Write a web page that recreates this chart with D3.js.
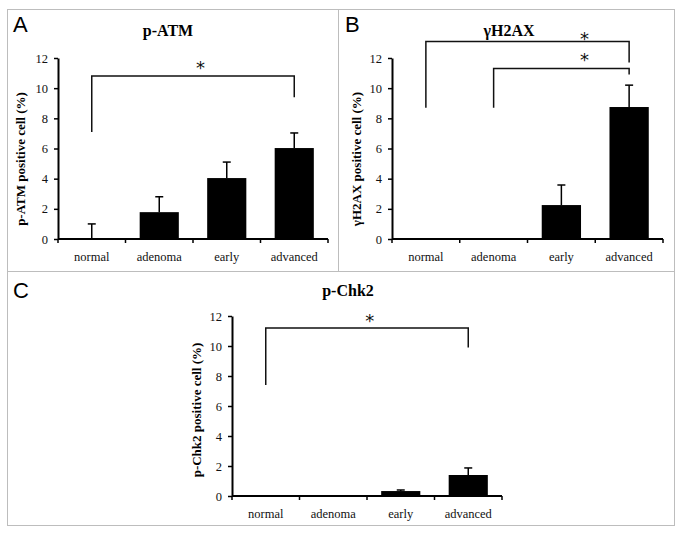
<!DOCTYPE html>
<html>
<head>
<meta charset="utf-8">
<script src="https://cdn.jsdelivr.net/npm/d3@7"></script>
<style>
  body { margin: 0; background: #fff; }
  svg { display: block; }
</style>
</head>
<body>
<div id="chart"></div>
<script>
// categories shared by the three panels
var categories = ['normal', 'adenoma', 'early', 'advanced'];
var yTicks = [0, 2, 4, 6, 8, 10, 12];

// panel A: p-ATM
var atmValues = [0, 1.78, 4.04, 6.03];
var atmErrors = [1.0, 1.02, 1.06, 1.0];
// panel B: gammaH2AX
var h2axValues = [0, 0.05, 2.25, 8.75];
var h2axErrors = [0, 0, 1.33, 1.45];
// panel C: p-Chk2
var chk2Values = [0, 0, 0.33, 1.4];
var chk2Errors = [0, 0, 0.07, 0.47];

// significance brackets: from/to category, bracket height, drop ends, star
var atmBrackets = [
  {from: 'normal', to: 'advanced', top: 10.8, leftEnd: 7.1, rightEnd: 9.4, starAt: 1.61, starY: 11.6}
];
var h2axBrackets = [
  {from: 'normal', to: 'advanced', top: 13.1, leftEnd: 8.7, rightEnd: 11.7, starAt: 2.34, starY: 13.5},
  {from: 'adenoma', to: 'advanced', top: 11.3, leftEnd: 8.7, rightEnd: 10.9, starAt: 2.34, starY: 12.1}
];
var chk2Brackets = [
  {from: 'normal', to: 'advanced', top: 11.2, leftEnd: 7.4, rightEnd: 9.9, starAt: 1.54, starY: 11.93}
];

var width = 679, height = 538;
var serif = "'Liberation Serif', 'Times New Roman', serif";

var svg = d3.select('#chart').append('svg')
    .attr('width', width)
    .attr('height', height);

svg.append('rect')
    .attr('width', width)
    .attr('height', height)
    .attr('fill', '#fff');

// panel frames
var frames = svg.append('g').attr('class', 'frames')
    .attr('fill', 'none')
    .attr('stroke', '#bdbdbd')
    .attr('stroke-width', 1);
frames.append('rect').attr('x', 7.5).attr('y', 9.5).attr('width', 331).attr('height', 262);
frames.append('rect').attr('x', 338.5).attr('y', 9.5).attr('width', 336).attr('height', 262);
frames.append('rect').attr('x', 7.5).attr('y', 271.5).attr('width', 667).attr('height', 254);

var panels = [
  {letter: 'A', lx: 13, ly: 32, title: 'p-ATM', tx: 168, ty: 36,
   ylabel: 'p-ATM positive cell (%)', ylx: 20, yly: 159,
   x0: 58, x1: 328, yTop: 58, yBot: 239,
   values: atmValues, errors: atmErrors, brackets: atmBrackets},
  {letter: 'B', lx: 345, ly: 32, title: '\u03b3H2AX', tx: 509, ty: 36,
   ylabel: '\u03b3H2AX positive cell (%)', ylx: 356, yly: 159,
   x0: 392, x1: 663, yTop: 58, yBot: 239,
   values: h2axValues, errors: h2axErrors, brackets: h2axBrackets},
  {letter: 'C', lx: 13, ly: 298, title: 'p-Chk2', tx: 348, ty: 296,
   ylabel: 'p-Chk2 positive cell (%)', ylx: 196, yly: 410,
   x0: 232, x1: 502, yTop: 316, yBot: 496,
   values: chk2Values, errors: chk2Errors, brackets: chk2Brackets}
];

panels.forEach(drawPanel);

function drawPanel(p) {
  var g = svg.append('g').attr('class', 'panel-' + p.letter);

  var x = d3.scaleBand()
      .domain(categories)
      .range([p.x0, p.x1])
      .paddingInner(0.42)
      .paddingOuter(0.21);

  var y = d3.scaleLinear()
      .domain([0, 12])
      .range([p.yBot, p.yTop]);

  // panel letter
  g.append('text')
      .attr('x', p.lx)
      .attr('y', p.ly)
      .attr('font-family', "'Liberation Sans', Arial, sans-serif")
      .attr('font-size', 22)
      .attr('fill', '#000')
      .text(p.letter);

  // title
  g.append('text')
      .attr('x', p.tx)
      .attr('y', p.ty)
      .attr('text-anchor', 'middle')
      .attr('font-family', serif)
      .attr('font-weight', 'bold')
      .attr('font-size', 16)
      .attr('fill', '#000')
      .text(p.title);

  // y axis label
  g.append('text')
      .attr('transform', 'translate(' + p.ylx + ',' + p.yly + ') rotate(-90)')
      .attr('text-anchor', 'middle')
      .attr('dy', '0.35em')
      .attr('font-family', serif)
      .attr('font-weight', 'bold')
      .attr('font-size', 13)
      .attr('fill', '#000')
      .text(p.ylabel);

  // bars
  var bars = categories.map(function(c, i) {
    return {cat: c, v: p.values[i], e: p.errors[i]};
  });

  g.selectAll('.bar')
      .data(bars)
      .enter().append('rect')
      .attr('class', 'bar')
      .attr('x', function(d) { return x(d.cat); })
      .attr('width', x.bandwidth())
      .attr('y', function(d) { return y(d.v); })
      .attr('height', function(d) { return y(0) - y(d.v); })
      .attr('fill', '#000');

  // error bars (upper half only)
  var err = g.selectAll('.err')
      .data(bars.filter(function(d) { return d.e > 0; }))
      .enter().append('g')
      .attr('class', 'err')
      .attr('stroke', '#000')
      .attr('stroke-width', 1.5);
  err.append('line')
      .attr('x1', function(d) { return x(d.cat) + x.bandwidth() / 2; })
      .attr('x2', function(d) { return x(d.cat) + x.bandwidth() / 2; })
      .attr('y1', function(d) { return y(d.v); })
      .attr('y2', function(d) { return y(d.v + d.e); });
  err.append('line')
      .attr('x1', function(d) { return x(d.cat) + x.bandwidth() / 2 - 4; })
      .attr('x2', function(d) { return x(d.cat) + x.bandwidth() / 2 + 4; })
      .attr('y1', function(d) { return y(d.v + d.e); })
      .attr('y2', function(d) { return y(d.v + d.e); });

  // y axis
  var yAxis = g.append('g')
      .attr('transform', 'translate(' + p.x0 + ',0)')
      .call(d3.axisLeft(y).tickValues(yTicks).tickSize(4).tickPadding(6).tickSizeOuter(0));
  styleAxis(yAxis);

  // x axis: line with ticks at band boundaries, labels centred
  var xg = g.append('g').attr('class', 'x-axis');
  xg.append('line')
      .attr('x1', p.x0).attr('x2', p.x1)
      .attr('y1', y(0)).attr('y2', y(0))
      .attr('stroke', '#000').attr('stroke-width', 2);
  var bounds = d3.range(categories.length + 1).map(function(i) { return p.x0 + i * x.step(); });
  xg.selectAll('.xtick')
      .data(bounds)
      .enter().append('line')
      .attr('class', 'xtick')
      .attr('x1', function(d) { return d; }).attr('x2', function(d) { return d; })
      .attr('y1', y(0)).attr('y2', y(0) + 4)
      .attr('stroke', '#000').attr('stroke-width', 1.5);
  xg.selectAll('.xlabel')
      .data(categories)
      .enter().append('text')
      .attr('class', 'xlabel')
      .attr('x', function(d) { return x(d) + x.bandwidth() / 2; })
      .attr('y', y(0) + 22)
      .attr('text-anchor', 'middle')
      .attr('font-family', serif)
      .attr('font-size', 12.5)
      .attr('fill', '#111')
      .text(function(d) { return d; });

  // significance brackets
  var mid = function(c) { return x(c) + x.bandwidth() / 2; };
  var br = g.selectAll('.bracket')
      .data(p.brackets)
      .enter().append('g')
      .attr('class', 'bracket');
  br.append('path')
      .attr('fill', 'none')
      .attr('stroke', '#111')
      .attr('stroke-width', 1.5)
      .attr('d', function(d) {
        return 'M' + mid(d.from) + ',' + y(d.leftEnd) +
               'V' + y(d.top) +
               'H' + mid(d.to) +
               'V' + y(d.rightEnd);
      });
  br.append('text')
      .attr('x', function(d) { return mid(categories[0]) + d.starAt * x.step(); })
      .attr('y', function(d) { return y(d.starY) + 9.5; })
      .attr('text-anchor', 'middle')
      .attr('font-family', "'DejaVu Sans', sans-serif")
      .attr('font-size', 18)
      .attr('fill', '#111')
      .text('*');
}

function styleAxis(sel) {
  sel.attr('font-family', serif);
  sel.select('.domain').attr('stroke', '#000').attr('stroke-width', 2);
  sel.selectAll('.tick line').attr('stroke', '#000').attr('stroke-width', 1.5);
  sel.selectAll('.tick text')
      .attr('font-family', serif)
      .attr('font-size', 12.5)
      .attr('fill', '#111');
}
</script>
</body>
</html>
